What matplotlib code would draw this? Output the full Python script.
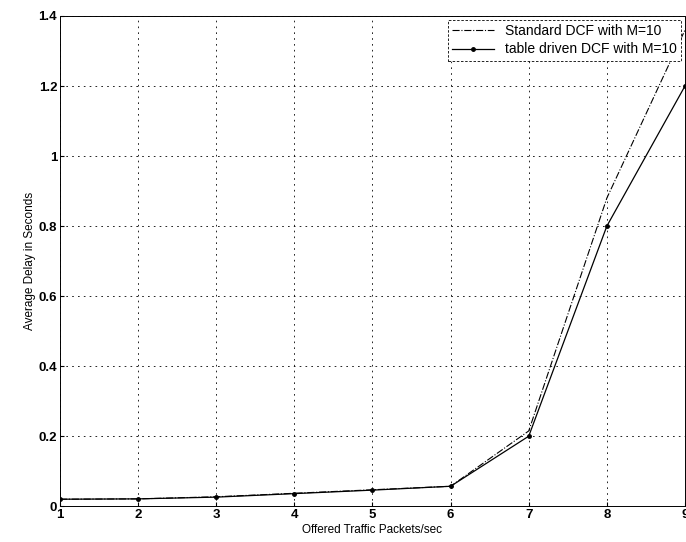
import matplotlib
matplotlib.use("Agg")
import matplotlib.pyplot as plt

# offered load (packets/sec) and average delay (s) for both schemes
traffic = [1, 2, 3, 4, 5, 6, 7, 8, 9]
delay_standard = [0.02, 0.021, 0.027, 0.037, 0.047, 0.057, 0.215, 0.88, 1.36]
delay_table = [0.02, 0.021, 0.026, 0.036, 0.046, 0.057, 0.20, 0.80, 1.20]

plt.rcParams["font.family"] = ["Liberation Sans", "DejaVu Sans"]

fig = plt.figure(figsize=(6.86, 5.42), dpi=100)
ax = fig.add_axes([0.0875, 0.066, 0.911, 0.9045])

ax.plot(traffic, delay_standard, color="black", linestyle="-.", linewidth=0.8,
        label="Standard DCF with M=10")
ax.plot(traffic, delay_table, color="black", linestyle="-", linewidth=0.9,
        marker=".", markersize=5, label="table driven DCF with M=10")

ax.set_xlim(1, 9)
ax.set_ylim(0, 1.4)
ax.set_xticks(range(1, 10))
ax.set_yticks([0, 0.2, 0.4, 0.6, 0.8, 1.0, 1.2, 1.4])
ax.set_yticklabels(["0", "0.2", "0.4", "0.6", "0.8", "1", "1.2", "1.4"])
ax.grid(True, color="black", linestyle=(0, (2, 5)), linewidth=0.6)
ax.tick_params(direction="in", length=3, labelsize=9.5, pad=2)
for lbl in ax.get_xticklabels() + ax.get_yticklabels():
    lbl.set_fontweight("bold")
for sp in ax.spines.values():
    sp.set_linewidth(0.7)
    sp.set_linestyle((0, (3, 1)))

ax.set_xlabel("Offered Traffic Packets/sec", fontsize=8.5, labelpad=2)
ax.set_ylabel("Average Delay in Seconds", fontsize=8.5, labelpad=2)

leg = ax.legend(loc="upper right", fontsize=10, fancybox=False, framealpha=1,
                edgecolor="black", handlelength=3.0, borderaxespad=0.3,
                borderpad=0.3, labelspacing=0.3)
leg.get_frame().set_linewidth(0.6)
leg.get_frame().set_linestyle((0, (3, 2)))

fig.savefig("out.png", dpi=100)
